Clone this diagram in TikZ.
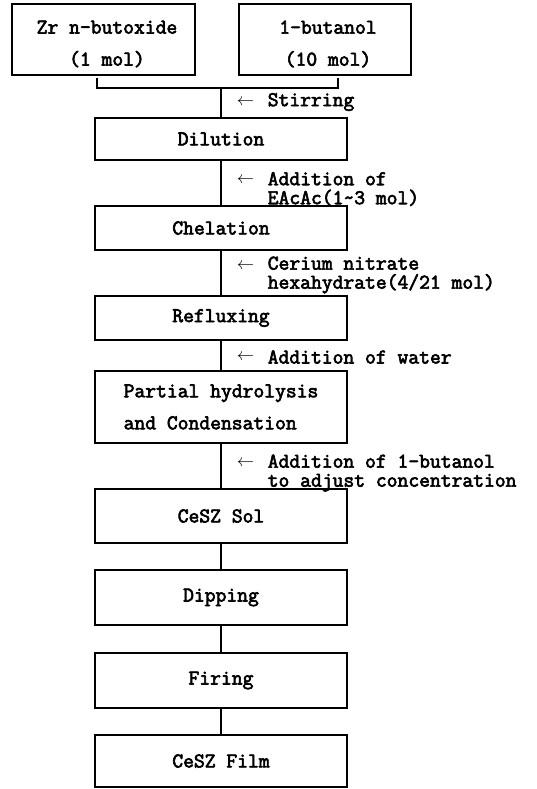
\documentclass[tikz,border=0pt]{standalone}
\usepackage{fontspec}
\newfontfamily\tw{Latin Modern Mono}[FakeBold=3]
\begin{document}
\begin{tikzpicture}[x=1pt,y=-1pt,line width=1.5pt,
  txt/.style={font=\tw\fontsize{21}{19}\selectfont, inner sep=0pt},
  box/.style={txt, draw, minimum width=252pt, align=left},
  topbox/.style={draw, minimum height=71pt},
  lbl/.style={txt, anchor=west, align=left},
  arr/.style={anchor=west, inner sep=0pt, font=\fontsize{18}{19}\selectfont}]
\useasboundingbox (0,0) rectangle (537,789);
% top boxes
\node[topbox, minimum width=183pt] (zr) at (103.5,39.5) {};
\node[txt, align=center] (zrt) at (107,44) {Zr n-butoxide\\[13pt](1 mol)};
\node[topbox, minimum width=172pt] (bu) at (325,39.5) {};
\node[txt, align=center] (but) at (328,44) {1-butanol\\[13pt](10 mol)};
% main boxes
\node[box, minimum height=42pt] (dil) at (221,139) {Dilution};
\node[box, minimum height=44pt] (che) at (221,228) {Chelation};
\node[box, minimum height=44pt] (ref) at (221,318) {Refluxing};
\node[box, minimum height=72pt] (par) at (221,407) {Partial hydrolysis\\[13pt]and Condensation};
\node[box, minimum height=54pt] (sol) at (221,516) {CeSZ Sol};
\node[box, minimum height=55pt] (dip) at (221,597.5) {Dipping};
\node[box, minimum height=55pt] (fir) at (221,680.5) {Firing};
\node[box, minimum height=52pt] (film) at (221,761) {CeSZ Film};
% bracket
\coordinate (bl) at (97,78);
\coordinate (br) at (338,78);
\coordinate (jn) at (221,88);
\draw (bl) |- (jn) -| (br);
\draw (jn) -- (dil.north);
% connectors
\draw (dil.south) -- (che.north);
\draw (che.south) -- (ref.north);
\draw (ref.south) -- (par.north);
\draw (par.south) -- (sol.north);
\draw (sol.south) -- (dip.north);
\draw (dip.south) -- (fir.north);
\draw (fir.south) -- (film.north);
% labels
\node[arr] (a1) at (236,102) {$\leftarrow$};
\node[lbl] (l1) at (267,102) {Stirring};
\node[arr] (a2) at (236,180) {$\leftarrow$};
\node[lbl] (l2) at (267,189) {Addition of\\EAcAc(1\textasciitilde 3 mol)};
\node[arr] (a3) at (236,266) {$\leftarrow$};
\node[lbl] (l3) at (267,275) {Cerium nitrate\\hexahydrate(4/21 mol)};
\node[arr] (a4) at (236,357) {$\leftarrow$};
\node[lbl] (l4) at (267,357) {Addition of water};
\node[arr] (a5) at (236,463) {$\leftarrow$};
\node[lbl] (l5) at (267,473) {Addition of 1-butanol\\to adjust concentration};
\end{tikzpicture}
\end{document}
